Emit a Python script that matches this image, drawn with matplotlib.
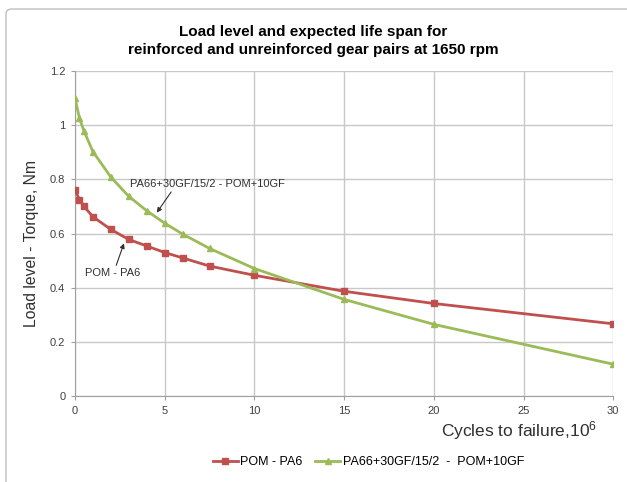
import matplotlib
matplotlib.use("Agg")
import matplotlib.pyplot as plt
from matplotlib.patches import FancyBboxPatch

plt.rcParams['font.family'] = ['Liberation Sans', 'DejaVu Sans']
plt.rcParams['mathtext.fontset'] = 'custom'
plt.rcParams['mathtext.rm'] = 'Liberation Sans'
plt.rcParams['mathtext.it'] = 'Liberation Sans'

# cycles to failure (millions) and torque (Nm) for each gear pair
cycles = [0, 0.25, 0.5, 1, 2, 3, 4, 5, 6, 7.5, 10, 15, 20, 30]
pom_pa6 = [0.76, 0.725, 0.70, 0.662, 0.615, 0.578, 0.554, 0.53, 0.51, 0.48, 0.446, 0.387, 0.342, 0.267]
pa66_pom = [1.10, 1.025, 0.978, 0.902, 0.808, 0.737, 0.684, 0.638, 0.598, 0.545, 0.471, 0.357, 0.265, 0.118]

x_ticks = [0, 5, 10, 15, 20, 25, 30]
y_ticks = [0, 0.2, 0.4, 0.6, 0.8, 1.0, 1.2]
y_tick_labels = ["0", "0.2", "0.4", "0.6", "0.8", "1", "1.2"]

red = "#C0504D"
green = "#9BBB59"

fig = plt.figure(figsize=(6.27, 4.82), dpi=100)
ax = fig.add_axes([0.1196, 0.178, 0.8584, 0.675])

# light outer chart frame
frame = FancyBboxPatch((6 / 627, -0.05), 1.2, 1 - 9 / 482 + 0.05,
                       boxstyle="round,pad=0,rounding_size=0.01",
                       transform=fig.transFigure, fill=False,
                       edgecolor="#BFBFBF", linewidth=1.0, zorder=0)
fig.patches.append(frame)

ax.plot(cycles, pom_pa6, color=red, linewidth=2, marker="s", markersize=5,
        label="POM - PA6", zorder=3)
ax.plot(cycles, pa66_pom, color=green, linewidth=2, marker="^", markersize=5,
        label="PA66+30GF/15/2  -  POM+10GF", zorder=3)

ax.set_xlim(0, 30)
ax.set_ylim(0, 1.2)
ax.set_xticks(x_ticks)
ax.set_yticks(y_ticks)
ax.set_yticklabels(y_tick_labels)
ax.tick_params(length=3, width=0.8, color="#A0A0A0", labelsize=8,
               labelcolor="#404040", pad=4)
ax.grid(True, color="#C8C8C8", linewidth=1)
ax.set_axisbelow(True)
for side in ["top", "right"]:
    ax.spines[side].set_visible(False)
for side in ["left", "bottom"]:
    ax.spines[side].set_color("#A0A0A0")

ax.set_ylabel("Load level - Torque, Nm", fontsize=11.3, color="#303030")
ax.yaxis.set_label_coords(-0.066, 0.47)
ax.text(29.1, -0.128, "Cycles to failure,10$^{6}$", fontsize=12.5, color="#303030",
        ha="right", va="center")

fig.text(0.5, 0.915, "Load level and expected life span for\nreinforced and unreinforced gear pairs at 1650 rpm",
         ha="center", va="center", fontsize=11, fontweight="bold", linespacing=1.3)

# curve labels with pointer arrows
ax.annotate("PA66+30GF/15/2 - POM+10GF", xy=(4.56, 0.677), xytext=(3.05, 0.782),
            fontsize=8, color="#303030", va="center", ha="left",
            arrowprops=dict(arrowstyle="-|>", color="#303030", lw=0.8,
                            mutation_scale=7, shrinkA=0, shrinkB=0,
                            relpos=(0.28, 0)))
ax.annotate("POM - PA6", xy=(2.73, 0.564), xytext=(0.55, 0.454),
            fontsize=8, color="#303030", va="center", ha="left",
            arrowprops=dict(arrowstyle="-|>", color="#303030", lw=0.8,
                            mutation_scale=7, shrinkA=0, shrinkB=0,
                            relpos=(0.55, 1)))

ax.legend(loc="center", bbox_to_anchor=(0.545, -0.203), ncol=2, frameon=False,
          fontsize=9, handlelength=2, handletextpad=0.2, columnspacing=1.0,
          markerscale=0.8)

fig.savefig("out.png", dpi=100)
